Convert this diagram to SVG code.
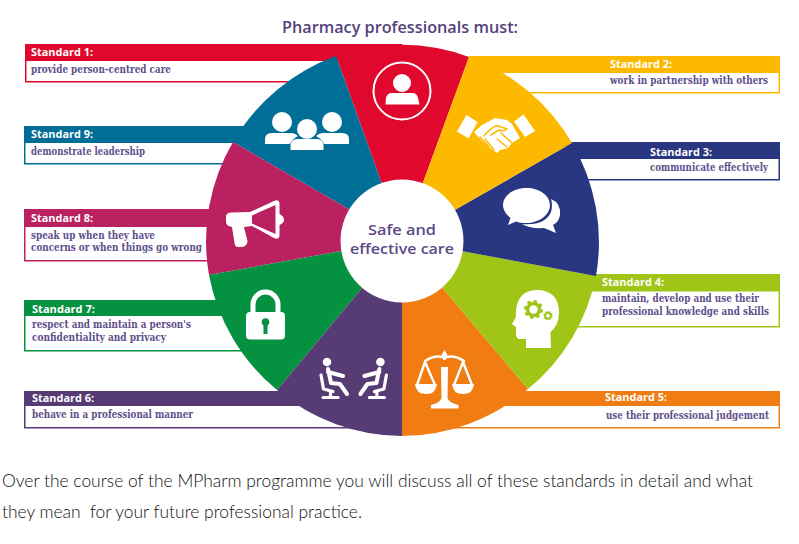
<svg xmlns="http://www.w3.org/2000/svg" width="799" height="544" viewBox="0 0 799 544">
<style>
.h{font:700 10.5px "Open Sans","Noto Sans",sans-serif;fill:#fff}
.b{font:700 10.2px "DejaVu Serif Condensed","DejaVu Serif","Liberation Serif",serif;fill:#5f4f8c}
.c{font:600 15px "Open Sans","Noto Sans",sans-serif;fill:#5b4a86}
.t{font:600 15.5px "Open Sans","Noto Sans",sans-serif;fill:#55427c}
.p{font:300 18px "Lato","Open Sans",sans-serif;fill:#111;white-space:pre}
.box{fill:#fff;stroke-width:1.5}
.w{fill:#fff}
.ws{fill:none;stroke:#fff;stroke-linecap:round;stroke-linejoin:round}
</style>
<rect width="799" height="544" fill="#fff"/>
<text class="t" x="282" y="33" textLength="236" lengthAdjust="spacingAndGlyphs">Pharmacy professionals must:</text>
<g id="connectors"/>

<g id="standard-1">
<rect class="box" x="25.750" y="44.750" width="304" height="37" stroke="#e0082d"/>
<rect x="25" y="44" width="377" height="17" fill="#e0082d"/>
<path d="M402 240L336 56A196 196 0 0 1 469 57Z" fill="#e0082d"/>
<circle cx="402" cy="91" r="28.500" fill="none" stroke="#fff" stroke-width="2"/>
<circle class="w" cx="402" cy="83" r="9"/>
<path class="w" d="M385.500 104.500L386 98Q387 93 392 93L412 93Q417 93 418 98L419.500 104.500Z"/>
<text class="h" x="31" y="56" textLength="62" lengthAdjust="spacingAndGlyphs">Standard 1:</text>
<text class="b" x="31" y="73" textLength="140" lengthAdjust="spacingAndGlyphs">provide person-centred care</text>
</g>

<g id="standard-9">
<rect class="box" x="24.750" y="126.750" width="240" height="37" stroke="#006e96"/>
<rect x="24" y="126" width="240" height="17" fill="#006e96"/>
<path d="M402 240L233 142A196 196 0 0 1 336 56Z" fill="#006e96"/>
<circle class="w" cx="282" cy="122" r="10"/><circle class="w" cx="332" cy="122" r="10"/>
<path class="w" d="M265 144V139Q265 133 272 133H291Q295 133 298 136Q292 139 290 144Z"/>
<path class="w" d="M349 144V139Q349 133 342 133H323Q319 133 316 136Q322 139 324 144Z"/>
<circle class="w" cx="307" cy="129" r="10"/>
<path class="w" d="M290.500 150V145Q291 139 297 139H317Q323 139 323.500 145V150Z"/>
<text class="h" x="31" y="138" textLength="62" lengthAdjust="spacingAndGlyphs">Standard 9:</text>
<text class="b" x="31" y="155" textLength="114" lengthAdjust="spacingAndGlyphs">demonstrate leadership</text>
</g>

<g id="standard-8">
<rect class="box" x="24.750" y="209.750" width="195" height="51" stroke="#bb2060"/>
<rect x="24" y="209" width="196" height="18" fill="#bb2060"/>
<path d="M402 240L209 275A196 196 0 0 1 233 142Z" fill="#bb2060"/>
<path class="w" fill-rule="evenodd" d="M226 216Q226 213 231 212.500L250 212L274 201Q279 199 279.500 203L279.500 214Q284 216 284 220Q284 223 279.500 225L279.500 236Q279 240 274 238L252 226L244 227L247.500 241Q247.500 246 242 247L238 247Q235 247 234.500 243L232 227Q226 226 226 222ZM252 215.500L252 223.500L275.500 234L275.500 205Z"/>
<text class="h" x="31" y="222" textLength="62" lengthAdjust="spacingAndGlyphs">Standard 8:</text>
<text class="b" x="31" y="238.500" textLength="124" lengthAdjust="spacingAndGlyphs">speak up when they have</text>
<text class="b" x="31" y="251" textLength="171" lengthAdjust="spacingAndGlyphs">concerns or when things go wrong</text>
</g>

<g id="standard-7">
<rect class="box" x="24.750" y="300.750" width="240" height="50" stroke="#049140"/>
<rect x="24" y="300" width="241" height="16" fill="#049140"/>
<path d="M402 240L277 390A196 196 0 0 1 209 275Z" fill="#049140"/>
<rect class="w" x="246" y="312" width="39" height="27.500" rx="4"/>
<path d="M253 314V304.500A12.500 12.500 0 0 1 278 304.500V314" fill="none" stroke="#fff" stroke-width="5"/>
<circle cx="265.500" cy="322" r="3.800" fill="#049140"/><rect x="263.500" y="322" width="4" height="12" fill="#049140"/>
<text class="h" x="32" y="313" textLength="63" lengthAdjust="spacingAndGlyphs">Standard 7:</text>
<text class="b" x="32" y="328" textLength="159" lengthAdjust="spacingAndGlyphs">respect and maintain a person's</text>
<text class="b" x="32" y="340.500" textLength="134" lengthAdjust="spacingAndGlyphs">confidentiality and privacy</text>
</g>

<g id="standard-6">
<rect class="box" x="24.750" y="391.750" width="335" height="36" stroke="#563b74"/>
<rect x="24" y="391" width="336" height="15" fill="#563b74"/>
<path d="M402 240L402 436A196 196 0 0 1 277 390Z" fill="#563b74"/>
<g id="seat"><circle class="w" cx="327" cy="362" r="4.300"/>
<path class="ws" stroke-width="4" d="M328 369L331 383L340 384L347 394M328 372L343 376"/>
<path class="ws" stroke-width="3.200" d="M321 375L323.500 389L333 391.500M323 397.500H338M330.500 391V397.500"/></g>
<use href="#seat" transform="translate(707.400 0) scale(-1 1)"/>
<text class="h" x="32" y="402" textLength="62" lengthAdjust="spacingAndGlyphs">Standard 6:</text>
<text class="b" x="32" y="418" textLength="161" lengthAdjust="spacingAndGlyphs">behave in a professional manner</text>
</g>

<g id="standard-5">
<rect class="box" x="450.750" y="391.750" width="328.500" height="36" stroke="#f07c12"/>
<rect x="450" y="391" width="330" height="15" fill="#f07c12"/>
<path d="M402 240L528 389A196 196 0 0 1 402 436Z" fill="#f07c12"/>
<path class="ws" stroke-width="2.400" d="M425 361Q436 354 444.500 358Q453 354 464 361M425 362L417 385M425 362L435 385M463 362L454 385M463 362L472 385"/>
<path class="w" d="M415 384H437Q436 394 426 394Q416 394 415 384ZM452 384H474Q473 394 463 394Q453 394 452 384ZM444.500 350L447.500 355L445.500 360H443.500L441.500 355ZM441 367H448L447.500 398Q449 403 458.500 405V408.500H431V405Q440 403 441.500 398Z"/>
<text class="h" x="605" y="401" textLength="62" lengthAdjust="spacingAndGlyphs">Standard 5:</text>
<text class="b" x="606" y="418.500" textLength="163" lengthAdjust="spacingAndGlyphs">use their professional judgement</text>
</g>

<g id="standard-4">
<rect class="box" x="550.750" y="274.750" width="228.500" height="52" stroke="#a1c517"/>
<rect x="550" y="274" width="230" height="17.500" fill="#a1c517"/>
<path d="M402 240L596 276A196 196 0 0 1 528 389Z" fill="#a1c517"/>
<path class="w" d="M536 290Q559 290 559 313Q559 325 550.500 332L551 348H526V339H520Q516 339 516 334V327L512 324L516 317Q515 300 525 293Q530 290 536 290Z"/>
<circle cx="533.500" cy="309.500" r="6" fill="none" stroke="#a1c517" stroke-width="3.500"/>
<circle cx="533.500" cy="309.500" r="8.300" fill="none" stroke="#a1c517" stroke-width="2.500" stroke-dasharray="3.300 3.200"/>
<circle cx="548" cy="315.700" r="2.900" fill="none" stroke="#a1c517" stroke-width="2"/>
<circle cx="548" cy="315.700" r="4" fill="none" stroke="#a1c517" stroke-width="1.300" stroke-dasharray="1.600 1.540"/>
<text class="h" x="602" y="286" textLength="62" lengthAdjust="spacingAndGlyphs">Standard 4:</text>
<text class="b" x="602" y="302" textLength="157" lengthAdjust="spacingAndGlyphs">maintain, develop and use their</text>
<text class="b" x="602" y="315" textLength="167" lengthAdjust="spacingAndGlyphs">professional knowledge and skills</text>
</g>

<g id="standard-3">
<rect class="box" x="565.750" y="142.750" width="213.500" height="37" stroke="#293681"/>
<rect x="565" y="142" width="215" height="17" fill="#293681"/>
<path d="M402 240L572 143A196 196 0 0 1 596 276Z" fill="#293681"/>
<path class="w" d="M526.500 188C540 188 550 196 550 205C550 215 539 223 526 223C522 223 519 222.500 516 221.500L508 225L510.500 218C506 214 503 210 503 205C503 196 513 188 526.500 188Z"/>
<path class="w" d="M551 199Q561 203 560 215Q559 222 553 225L556 233L544 228Q530 229 522 224Q545 226 551 212Q553 205 551 199Z"/>
<text class="h" x="650" y="155.500" textLength="62" lengthAdjust="spacingAndGlyphs">Standard 3:</text>
<text class="b" x="650" y="171" textLength="118" lengthAdjust="spacingAndGlyphs">communicate effectively</text>
</g>

<g id="standard-2">
<rect class="box" x="490.750" y="56.750" width="288.500" height="36" stroke="#fdb900"/>
<rect x="469" y="56" width="311" height="17" fill="#fdb900"/>
<path d="M402 240L469 57A196 196 0 0 1 572 143Z" fill="#fdb900"/>
<path class="w" d="M466.500 115L477.500 122L468.500 138.500L457 131.500ZM523.500 114.500L535 131L525 137L514 121.500Z"/>
<path class="w" d="M474 132L482 125L495 118L507 120L512 124L520 138L512 143L508 148L500 150L497 153L490 148L482 141Z"/>
<path fill="none" stroke="#fdb900" stroke-width="1.500" stroke-linecap="round" stroke-linejoin="round" d="M484 136Q490 128 497 125.500L507 129Q504 132 499 130L491 135M480 137L489 147M485 139L494 150M512 143L501 133M507 147L497 139"/>
<text class="h" x="610" y="68" textLength="62" lengthAdjust="spacingAndGlyphs">Standard 2:</text>
<text class="b" x="610" y="84" textLength="158" lengthAdjust="spacingAndGlyphs">work in partnership with others</text>
</g>

<g id="centre">
<circle cx="402" cy="241" r="61.500" fill="#fff"/>
<text class="c" x="368" y="234.500" textLength="68" lengthAdjust="spacingAndGlyphs">Safe and</text>
<text class="c" x="350" y="254" textLength="104" lengthAdjust="spacingAndGlyphs">effective care</text>
</g>

<text class="p" x="2" y="487" textLength="751" lengthAdjust="spacingAndGlyphs">Over the course of the MPharm programme you will discuss all of these standards in detail and what</text>
<text class="p" x="2" y="518" textLength="360" lengthAdjust="spacingAndGlyphs">they mean  for your future professional practice.</text>
</svg>
